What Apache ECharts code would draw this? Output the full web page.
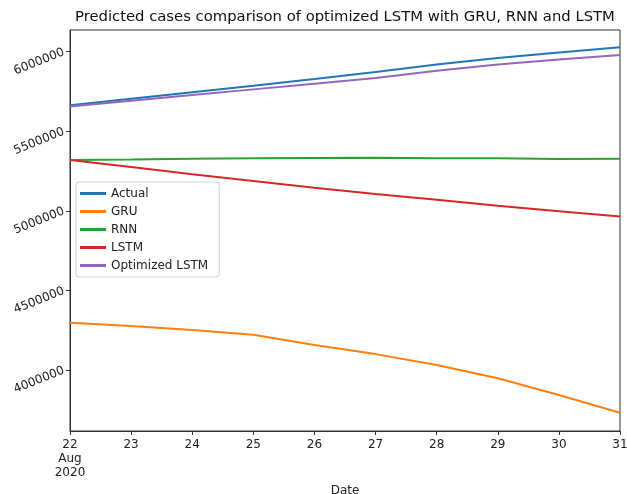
<!DOCTYPE html>
<html><head><meta charset="utf-8">
<script src="https://cdn.jsdelivr.net/npm/echarts@6/dist/echarts.min.js"></script>
<style>html,body{margin:0;padding:0;background:#fff}#c{width:627px;height:494px}</style>
</head><body><div id="c"></div>
<script>
const days = ['22','23','24','25','26','27','28','29','30','31'];
const actual = [5663000,5704000,5745000,5786000,5828000,5872000,5920000,5960000,5995000,6028000];
const gru = [4297000,4276000,4251000,4222000,4157000,4100000,4031000,3948000,3843000,3732000];
const rnn = [5320000,5322000,5328000,5330000,5332000,5334000,5330000,5331000,5326000,5327000];
const lstm = [5320000,5275000,5230000,5187000,5145000,5106000,5069000,5032000,4998000,4964000];
const optLstm = [5655000,5691000,5727000,5763000,5799000,5835000,5880000,5920000,5950000,5979000];
const yTicks = [4000000,4500000,5000000,5500000,6000000];

const font = 'DejaVu Sans';
const mk = (name, data, color) => ({
  name, type:'line', data, symbol:'none', smooth:false,
  lineStyle:{width:2, color}, itemStyle:{color}
});
const chart = echarts.init(document.getElementById('c'));
chart.setOption({
  animation:false,
  backgroundColor:'#fff',
  textStyle:{fontFamily:font},
  title:{text:'Predicted cases comparison of optimized LSTM with GRU, RNN and LSTM',
    left:70, top:5,
    textStyle:{fontFamily:font, fontSize:14.8, fontWeight:'normal', color:'#111'}},
  grid:{left:70, top:30, right:7, bottom:63, show:true, borderColor:'#333', borderWidth:1,
    containLabel:false, outerBoundsMode:'none'},
  legend:{orient:'vertical', left:76, top:182, padding:[4,11,4,4],
    backgroundColor:'#fff', borderColor:'#d0d0d0', borderWidth:1, borderRadius:3,
    itemWidth:26, itemHeight:3, icon:'rect', itemGap:3,
    textStyle:{fontFamily:font, fontSize:12, color:'#222', lineHeight:15},
    data:['Actual','GRU','RNN','LSTM','Optimized LSTM']},
  xAxis:{type:'category', data:days, boundaryGap:false,
    name:'Date', nameLocation:'middle', nameGap:50,
    nameTextStyle:{fontFamily:font, fontSize:12, color:'#222'},
    axisLine:{lineStyle:{color:'#333'}},
    axisTick:{alignWithLabel:true, length:4, lineStyle:{color:'#333'}},
    axisLabel:{fontFamily:font, fontSize:12, color:'#222', margin:7,
      formatter:(v,i)=> i===0 ? '22\nAug\n2020' : v, lineHeight:14},
    splitLine:{show:false}},
  yAxis:{type:'value', min:3617000, max:6136000,
    axisLine:{show:true, lineStyle:{color:'#333'}},
    axisTick:{show:true, length:4, lineStyle:{color:'#333'}, customValues:yTicks},
    axisLabel:{fontFamily:font, fontSize:12, color:'#222', rotate:22, margin:6,
      customValues:yTicks, formatter:v=>String(v)},
    splitLine:{show:false}},
  series:[
    mk('Actual', actual, '#1f77b4'),
    mk('GRU', gru, '#ff7f0e'),
    mk('RNN', rnn, '#2ca02c'),
    mk('LSTM', lstm, '#d62728'),
    mk('Optimized LSTM', optLstm, '#9467bd')
  ]
});
</script></body></html>
